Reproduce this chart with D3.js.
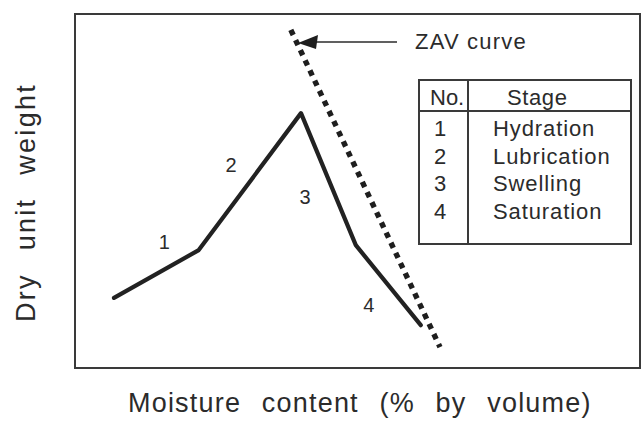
<!DOCTYPE html>
<html>
<head>
<meta charset="utf-8">
<script src="https://cdn.jsdelivr.net/npm/d3@7"></script>
<style>
  html, body { margin: 0; padding: 0; background: #ffffff; }
  svg { display: block; }
  text { font-family: "Liberation Sans", Arial, Helvetica, sans-serif; fill: #2b2b2b; }
</style>
</head>
<body>
<svg id="chart" width="642" height="421"></svg>
<script>
// ---- data (arbitrary 0-100 units, no numeric axes in the original) ----
const moisture      = [6.9, 21.9, 40.0, 49.7, 61.2];   // compaction curve x
const dryUnitWeight = [19.8, 33.3, 72.0, 34.7, 12.1];  // compaction curve y
const zavMoisture   = [38.2, 64.6];                    // ZAV line x
const zavDryWeight  = [95.5, 5.9];                     // ZAV line y
const stageNo       = ["1", "2", "3", "4"];
const stageName     = ["Hydration", "Lubrication", "Swelling", "Saturation"];
const stageLabelX   = [15.8, 27.6, 40.7, 52.0];
const stageLabelY   = [35.6, 57.3, 48.3, 17.8];
const xTitle = "Moisture content (% by volume)";
const yTitle = "Dry unit weight";
const zavLabel = "ZAV curve";

// ---- layout ----
const svg = d3.select("#chart");
const frame = { left: 75, top: 14, right: 640, bottom: 368 };
const x = d3.scaleLinear().domain([0, 100]).range([frame.left, frame.right]);
const y = d3.scaleLinear().domain([0, 100]).range([frame.bottom, frame.top]);

// frame (axes box)
svg.append("rect")
  .attr("x", frame.left).attr("y", frame.top)
  .attr("width", frame.right - frame.left).attr("height", frame.bottom - frame.top)
  .attr("fill", "none").attr("stroke", "#3a3a3a").attr("stroke-width", 2);

// ZAV dotted line
const zavData = zavMoisture.map((m, i) => [m, zavDryWeight[i]]);
svg.append("path")
  .datum(zavData)
  .attr("d", d3.line().x(d => x(d[0])).y(d => y(d[1])))
  .attr("fill", "none").attr("stroke", "#1e1e1e")
  .attr("stroke-width", 5.4)
  .attr("stroke-dasharray", "5.6,5.6");

// compaction curve
const curve = moisture.map((m, i) => [m, dryUnitWeight[i]]);
svg.append("path")
  .datum(curve)
  .attr("d", d3.line().x(d => x(d[0])).y(d => y(d[1])))
  .attr("fill", "none").attr("stroke", "#222")
  .attr("stroke-width", 4.2).attr("stroke-linejoin", "round").attr("stroke-linecap", "round");

// stage numbers on the curve
svg.selectAll("text.stage")
  .data(stageNo)
  .enter().append("text")
  .attr("class", "stage")
  .attr("x", (d, i) => x(stageLabelX[i]))
  .attr("y", (d, i) => y(stageLabelY[i]))
  .attr("text-anchor", "middle").attr("dominant-baseline", "central")
  .attr("font-size", 20)
  .text(d => d);

// arrow + ZAV label
svg.append("line")
  .attr("x1", 397).attr("y1", 42).attr("x2", 314).attr("y2", 42)
  .attr("stroke", "#2b2b2b").attr("stroke-width", 1.6);
svg.append("path")
  .attr("d", "M298,43 L318,35 L316,49 Z")
  .attr("fill", "#1e1e1e");
svg.append("text")
  .attr("x", 415).attr("y", 49)
  .attr("font-size", 22).attr("letter-spacing", 1.2)
  .text(zavLabel);

// legend table
const tb = { left: 419, top: 80, right: 631, bottom: 244, headerY: 111, colX: 468 };
const tg = svg.append("g");
tg.append("rect")
  .attr("x", tb.left).attr("y", tb.top)
  .attr("width", tb.right - tb.left).attr("height", tb.bottom - tb.top)
  .attr("fill", "#fff").attr("stroke", "#3a3a3a").attr("stroke-width", 2);
tg.append("line")
  .attr("x1", tb.left).attr("x2", tb.right).attr("y1", tb.headerY).attr("y2", tb.headerY)
  .attr("stroke", "#3a3a3a").attr("stroke-width", 2);
tg.append("line")
  .attr("x1", tb.colX).attr("x2", tb.colX).attr("y1", tb.top).attr("y2", tb.bottom)
  .attr("stroke", "#3a3a3a").attr("stroke-width", 2);
tg.append("text").attr("x", 430).attr("y", 105).attr("font-size", 22).text("No.");
tg.append("text").attr("x", 507).attr("y", 105).attr("font-size", 22).attr("letter-spacing", 0.6).text("Stage");
const rowY = d3.scalePoint().domain(stageNo).range([136, 219]);
tg.selectAll("text.no").data(stageNo).enter().append("text")
  .attr("class", "no")
  .attr("x", 440).attr("y", d => rowY(d))
  .attr("text-anchor", "middle").attr("font-size", 22)
  .text(d => d);
tg.selectAll("text.name").data(stageName).enter().append("text")
  .attr("class", "name")
  .attr("x", 493).attr("y", (d, i) => rowY(stageNo[i]))
  .attr("font-size", 22).attr("letter-spacing", 0.9)
  .text(d => d);

// axis titles
svg.append("text")
  .attr("x", 128).attr("y", 412)
  .attr("font-size", 27).attr("letter-spacing", 1.2).attr("word-spacing", 12)
  .text(xTitle);
svg.append("text")
  .attr("transform", "translate(35,322) rotate(-90)")
  .attr("x", 0).attr("y", 0)
  .attr("font-size", 27).attr("letter-spacing", 2.3).attr("word-spacing", 13)
  .text(yTitle);
</script>
</body>
</html>
